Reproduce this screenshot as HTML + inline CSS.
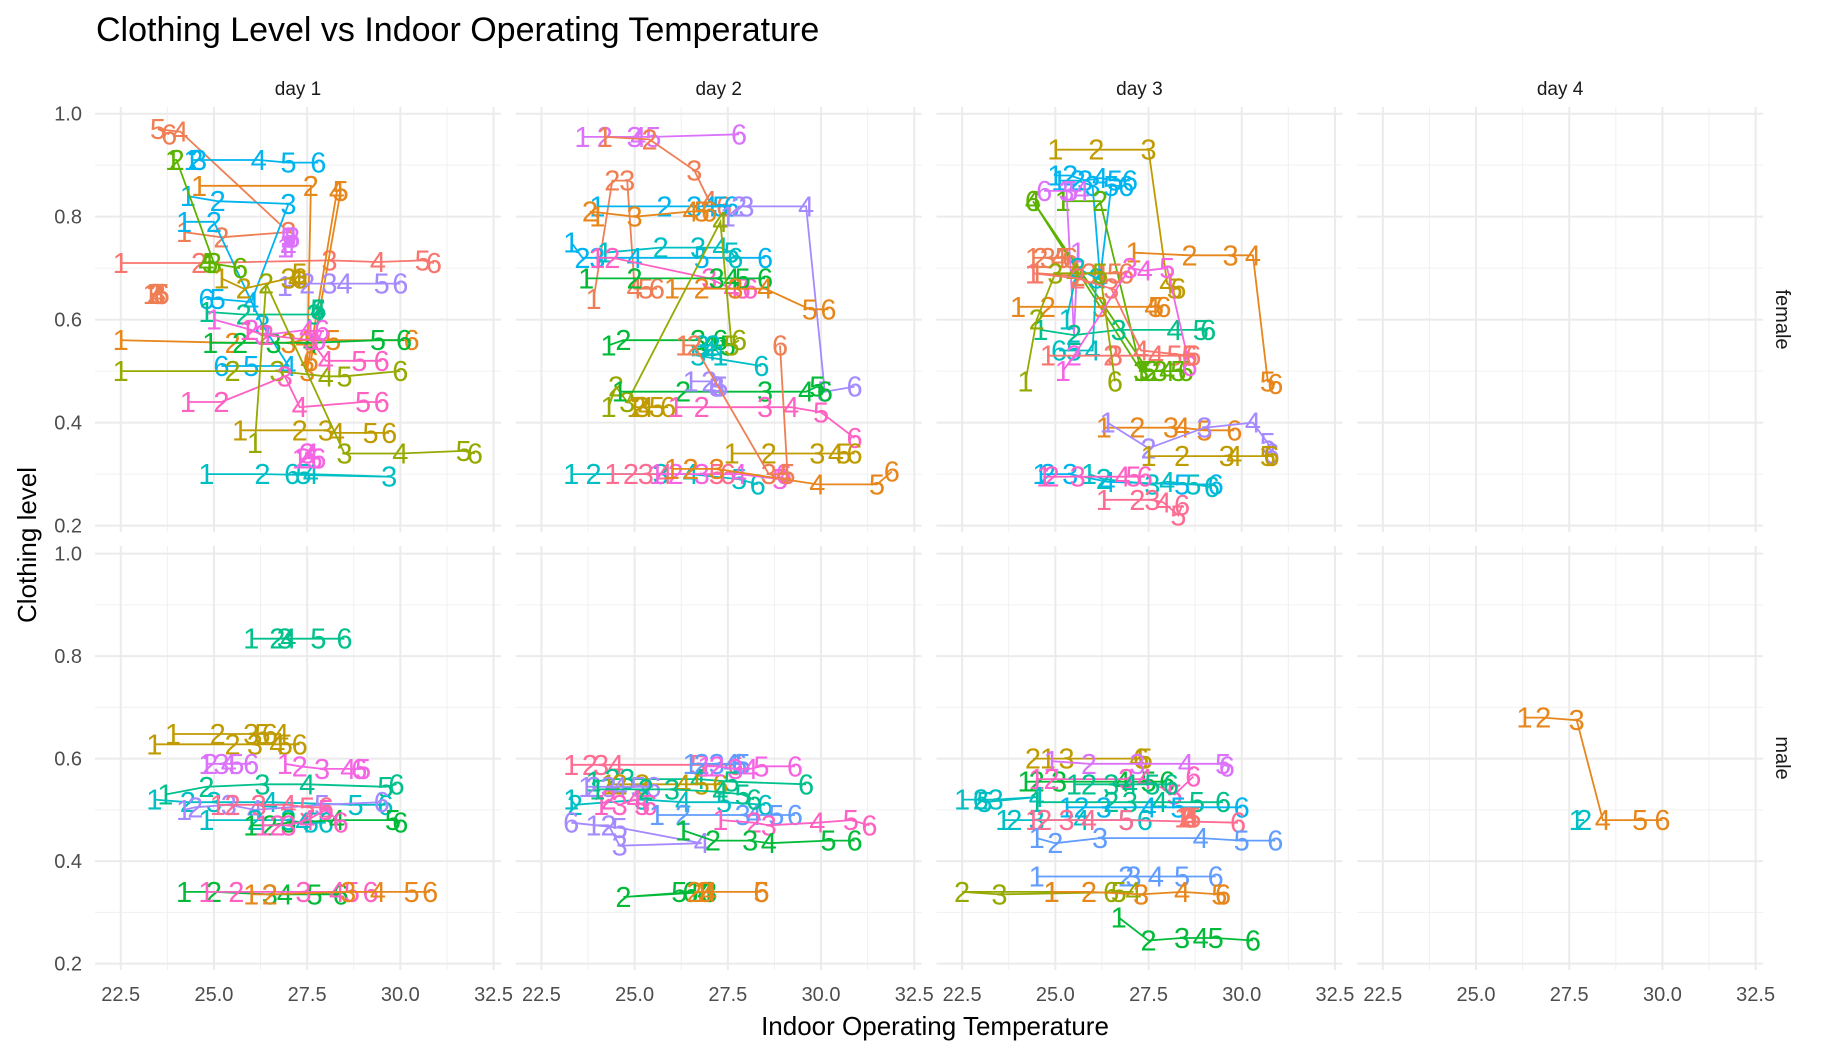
<!DOCTYPE html>
<html><head><meta charset="utf-8"><title>Clothing Level vs Indoor Operating Temperature</title>
<style>
html,body{margin:0;padding:0;background:#fff;}
svg{display:block;font-family:"Liberation Sans",sans-serif;}
</style></head>
<body>
<svg id="chart" width="1824" height="1056" viewBox="0 0 1824 1056" xmlns="http://www.w3.org/2000/svg">
<text x="96" y="41" font-size="34" fill="#000">Clothing Level vs Indoor Operating Temperature</text>
<text x="935" y="1035" font-size="26" text-anchor="middle" fill="#000">Indoor Operating Temperature</text>
<text x="0" y="0" font-size="26" text-anchor="middle" fill="#000" transform="translate(36,545) rotate(-90)">Clothing level</text>
<g id="grid"></g>
<g id="marks"></g>
</svg>
<script>
const palette = ["#F8766D","#E7861B","#C09B00","#95A900","#5BB300","#00BA38","#00C08B","#00BFC4","#00B4F0","#619CFF","#A58AFF","#DB72FB","#F564E3","#FF61C3","#FF6C91","#F07E55"];
const days = ["day 1","day 2","day 3","day 4"];
const sexes = ["female","male"];
const xTicks = [22.5,25.0,27.5,30.0,32.5];
const xTickLabels = ["22.5","25.0","27.5","30.0","32.5"];
const yTicks = [0.2,0.4,0.6,0.8,1.0];
const yTickLabels = ["0.2","0.4","0.6","0.8","1.0"];
const seriesDay = [
1,1,1,1,1,1,1,1,1,1,1,1,1,1,1,1,1,1,1,1,1,1,
2,2,2,2,2,2,2,2,2,2,2,2,2,2,2,2,2,2,2,2,2,2,2,2,
3,3,3,3,3,3,3,3,3,3,3,3,3,3,3,3,3,3,3,3,3,3,3,
1,1,1,1,1,1,1,1,1,1,1,1,1,1,1,
2,2,2,2,2,2,2,2,2,2,2,2,2,2,2,
3,3,3,3,3,3,3,3,3,3,3,3,3,3,3,3,
4,4];
const seriesSex = [
0,0,0,0,0,0,0,0,0,0,0,0,0,0,0,0,0,0,0,0,0,0,
0,0,0,0,0,0,0,0,0,0,0,0,0,0,0,0,0,0,0,0,0,0,0,0,
0,0,0,0,0,0,0,0,0,0,0,0,0,0,0,0,0,0,0,0,0,0,0,
1,1,1,1,1,1,1,1,1,1,1,1,1,1,1,
1,1,1,1,1,1,1,1,1,1,1,1,1,1,1,
1,1,1,1,1,1,1,1,1,1,1,1,1,1,1,1,
1,1];
const seriesColor = [
0,15,15,8,1,8,8,7,4,3,1,5,6,10,11,13,12,13,2,3,2,12,
11,15,15,8,1,10,8,7,13,5,1,5,3,7,5,2,13,10,2,7,14,12,1,15,
2,8,8,4,11,15,15,1,1,6,7,0,3,4,12,1,10,2,8,7,13,14,0,
6,2,2,11,6,7,10,14,7,5,13,5,13,1,12,
14,9,6,2,10,7,13,9,13,10,5,5,1,12,6,
2,11,5,13,7,6,8,7,14,0,9,9,3,1,5,6,
1,7];
const seriesX = [
[22.5,24.6,28.1,29.4,30.6,30.9],
[24.2,25.2,27.0,24.1,23.5,23.8],
[23.3,23.4,23.5,23.5,23.6,23.6],
[24.4,24.5,24.6,26.2,27.0,27.8],
[24.6,27.6,27.5,28.3,28.4,27.6],
[24.3,25.1,27.0,26.0,25.1,24.8],
[24.2,25.0,26.3,27.0,26.0,25.2],
[24.8,26.3,29.7,27.6,27.4,27.1],
[23.9,24.0,25.0,24.8,24.9,25.7],
[22.5,25.5,26.7,28.0,28.5,30.0],
[22.5,25.5,27.0,27.4,28.2,30.3],
[24.9,25.7,26.6,27.6,29.4,30.1],
[24.8,25.8,27.7,27.8,27.8,27.8],
[26.9,27.5,28.1,28.5,29.5,30.0],
[26.9,27.0,27.1,27.0,27.0,27.1],
[24.3,25.2,26.9,27.3,29.0,29.5],
[25.0,26.0,26.3,27.5,27.8,27.9],
[25.9,26.4,27.6,28.0,28.9,29.5],
[25.7,27.3,28.0,28.3,29.2,29.7],
[26.1,26.4,28.5,30.0,31.7,32.0],
[25.2,25.8,27.0,27.2,27.3,27.3],
[27.3,27.4,27.5,27.6,27.7,27.8],
[23.6,24.2,25.0,25.1,25.5,27.8],
[24.2,25.4,26.6,27.0,27.3,27.4],
[23.9,24.4,24.8,25.0,25.3,25.6],
[24.0,25.8,26.6,27.0,27.3,27.6],
[24.0,23.8,25.0,26.5,26.8,27.0],
[27.5,27.8,28.0,29.6,30.1,30.9],
[23.3,23.6,24.0,25.0,26.8,28.5],
[24.2,25.7,26.7,27.3,27.6,27.7],
[24.0,24.4,27.0,27.6,27.9,28.1],
[23.7,25.0,27.2,27.6,27.9,28.5],
[26.0,26.8,27.7,28.5,29.7,30.2],
[24.3,24.7,26.7,27.0,27.5,27.3],
[24.3,24.5,24.8,27.3,27.6,27.8],
[27.3,27.1,26.8,27.0,26.7,28.4],
[24.6,26.3,28.5,29.6,29.9,30.1],
[25.0,25.1,25.2,25.3,25.6,25.9],
[26.1,26.8,28.5,29.2,30.0,30.9],
[26.5,27.0,27.2,27.2,27.3,27.2],
[27.6,28.6,29.9,30.4,30.6,30.9],
[23.3,23.9,25.7,26.5,27.8,28.3],
[24.4,24.9,25.3,25.8,27.2,27.5],
[25.6,26.1,26.8,27.8,28.9,29.0],
[26.0,26.5,27.2,29.9,31.5,31.9],
[26.3,26.6,28.6,29.0,29.1,28.9],
[25.0,26.1,27.5,28.0,28.2,28.3],
[25.0,25.4,25.8,26.2,26.6,27.0],
[25.1,25.6,26.0,26.2,26.5,26.9],
[25.2,26.2,27.3,24.4,27.5,24.4],
[25.6,25.5,25.3,25.7,25.4,24.7],
[24.4,24.6,24.8,25.1,25.2,25.4],
[24.5,25.6,25.9,26.2,26.6,26.9],
[24.0,24.8,26.2,27.6,27.7,27.9],
[27.1,28.6,29.7,30.3,30.7,30.9],
[24.6,25.5,26.7,28.2,28.9,29.1],
[25.3,25.6,26.1,26.0,25.5,25.1],
[24.8,26.5,26.6,27.7,28.2,28.6],
[24.2,24.5,25.0,25.5,26.2,26.6],
[27.3,27.6,27.8,28.0,28.3,28.5],
[25.2,25.5,27.0,27.4,28.0,28.6],
[26.3,27.2,28.1,28.4,29.0,29.8],
[26.4,27.5,29.0,30.3,30.7,30.8],
[27.5,28.4,29.6,29.8,30.7,30.8],
[24.6,24.8,25.4,26.4,28.4,29.3],
[25.9,26.3,27.6,28.0,28.7,29.2],
[24.7,24.9,25.6,26.8,27.1,27.4],
[26.3,27.2,27.6,27.9,28.3,28.4],
[24.4,25.6,26.5,27.3,28.6,28.7],
[26.0,26.7,26.9,27.0,27.8,28.5],
[23.9,25.1,26.0,26.8,26.3,26.5],
[23.4,25.5,26.1,26.7,26.9,27.3],
[24.8,24.9,25.2,25.4,25.6,26.0],
[23.7,24.8,26.3,27.5,29.6,29.9],
[23.4,24.3,25.0,26.5,28.8,29.6],
[24.2,24.5,25.4,26.1,27.9,29.5],
[25.1,25.5,26.2,27.0,27.5,28.0],
[24.8,26.1,27.0,27.4,27.6,28.0],
[26.0,26.5,27.0,28.3,29.8,30.0],
[26.3,26.7,27.0,27.5,28.0,28.4],
[24.2,25.0,26.5,26.9,27.7,28.4],
[24.8,25.6,27.4,28.3,28.7,29.2],
[26.0,26.5,28.6,29.4,30.3,30.8],
[26.9,27.3,27.9,28.6,29.0,28.9],
[23.3,23.8,24.1,24.5,26.7,27.7],
[26.5,26.8,27.2,27.6,27.9,27.8],
[23.9,24.4,24.8,26.7,27.6,29.6],
[24.3,24.6,25.2,26.3,26.8,27.3],
[23.7,23.9,24.3,24.6,25.1,25.5],
[23.3,23.4,25.2,26.3,27.4,28.5],
[24.1,24.3,24.6,25.0,25.2,25.4],
[25.6,26.3,27.9,28.2,28.8,29.3],
[27.3,28.2,28.6,29.9,30.8,31.3],
[23.9,24.3,24.6,26.8,24.6,23.3],
[26.3,27.1,28.1,28.6,30.2,30.9],
[26.6,24.7,27.0,26.9,26.2,26.5],
[26.8,26.6,26.9,27.0,28.4,28.4],
[26.9,27.2,27.7,28.1,28.4,29.3],
[24.0,25.3,26.0,27.3,27.9,28.2],
[24.8,24.4,25.3,27.2,27.4,27.3],
[24.9,25.9,27.2,28.5,29.5,29.6],
[24.2,24.5,25.1,26.8,27.5,28.0],
[24.5,24.9,26.9,27.4,28.2,28.7],
[22.5,23.0,23.4,24.5,23.1,23.0],
[24.5,26.5,27.0,27.8,28.8,29.5],
[25.3,25.7,26.3,27.5,28.3,30.0],
[23.6,23.9,24.5,25.7,26.9,27.4],
[24.4,24.7,25.3,25.9,26.9,29.9],
[28.4,28.5,28.6,28.6,28.7,28.6],
[24.5,25.0,26.2,28.9,30.0,30.9],
[24.5,26.9,27.1,27.7,28.4,29.3],
[24.9,22.5,23.5,27.1,26.7,26.5],
[24.9,25.9,27.3,28.4,29.4,29.5],
[26.7,27.5,28.4,28.9,29.3,30.3],
[25.5,25.9,26.5,27.0,27.6,28.1],
[26.3,26.8,27.7,28.4,29.4,30.0],
[27.7,27.9]
];
const seriesY = [
[0.71,0.71,0.715,0.712,0.715,0.71],
[0.77,0.76,0.77,0.965,0.97,0.96],
[0.65,0.65,0.65,0.65,0.65,0.65],
[0.91,0.91,0.91,0.91,0.905,0.905],
[0.86,0.86,0.50,0.85,0.85,0.52],
[0.84,0.83,0.825,0.634,0.64,0.64],
[0.79,0.79,0.59,0.51,0.51,0.51],
[0.30,0.30,0.295,0.30,0.30,0.30],
[0.91,0.91,0.71,0.71,0.71,0.70],
[0.50,0.50,0.50,0.49,0.49,0.50],
[0.56,0.555,0.555,0.56,0.56,0.56],
[0.555,0.555,0.555,0.555,0.56,0.56],
[0.615,0.61,0.61,0.62,0.62,0.62],
[0.665,0.67,0.67,0.67,0.67,0.67],
[0.74,0.76,0.76,0.74,0.76,0.76],
[0.44,0.44,0.49,0.43,0.44,0.44],
[0.60,0.58,0.57,0.58,0.56,0.58],
[0.58,0.57,0.56,0.52,0.52,0.52],
[0.385,0.385,0.385,0.38,0.38,0.38],
[0.36,0.67,0.34,0.34,0.345,0.34],
[0.68,0.66,0.68,0.68,0.69,0.68],
[0.33,0.33,0.34,0.34,0.33,0.33],
[0.955,0.955,0.955,0.955,0.955,0.96],
[0.955,0.95,0.89,0.83,0.82,0.82],
[0.64,0.87,0.87,0.66,0.66,0.66],
[0.82,0.82,0.82,0.82,0.82,0.82],
[0.80,0.81,0.80,0.81,0.81,0.81],
[0.80,0.82,0.82,0.82,0.46,0.47],
[0.75,0.72,0.72,0.72,0.72,0.72],
[0.73,0.74,0.74,0.74,0.73,0.72],
[0.72,0.72,0.68,0.66,0.66,0.66],
[0.68,0.68,0.68,0.68,0.68,0.68],
[0.66,0.66,0.66,0.66,0.62,0.62],
[0.55,0.56,0.56,0.55,0.55,0.56],
[0.43,0.47,0.44,0.79,0.55,0.56],
[0.53,0.55,0.55,0.54,0.53,0.51],
[0.46,0.46,0.46,0.46,0.47,0.46],
[0.43,0.43,0.43,0.43,0.43,0.43],
[0.43,0.43,0.43,0.43,0.42,0.37],
[0.48,0.48,0.47,0.47,0.47,0.47],
[0.34,0.34,0.34,0.34,0.34,0.34],
[0.30,0.30,0.30,0.30,0.29,0.28],
[0.30,0.30,0.30,0.30,0.30,0.30],
[0.30,0.30,0.30,0.30,0.29,0.30],
[0.31,0.31,0.31,0.28,0.28,0.305],
[0.55,0.55,0.30,0.30,0.30,0.55],
[0.93,0.93,0.93,0.67,0.66,0.66],
[0.88,0.88,0.87,0.875,0.87,0.87],
[0.87,0.87,0.86,0.68,0.86,0.86],
[0.83,0.83,0.50,0.83,0.50,0.83],
[0.73,0.57,0.85,0.85,0.85,0.85],
[0.72,0.72,0.72,0.72,0.72,0.72],
[0.69,0.685,0.69,0.69,0.69,0.69],
[0.625,0.625,0.625,0.625,0.625,0.625],
[0.73,0.725,0.725,0.725,0.48,0.475],
[0.58,0.57,0.58,0.58,0.58,0.58],
[0.60,0.70,0.68,0.54,0.54,0.54],
[0.53,0.53,0.53,0.53,0.53,0.53],
[0.48,0.60,0.69,0.69,0.69,0.48],
[0.50,0.50,0.50,0.50,0.50,0.50],
[0.50,0.53,0.70,0.695,0.70,0.51],
[0.39,0.39,0.39,0.39,0.385,0.385],
[0.40,0.35,0.39,0.40,0.36,0.34],
[0.335,0.335,0.335,0.335,0.335,0.335],
[0.30,0.30,0.30,0.285,0.28,0.28],
[0.30,0.29,0.28,0.285,0.28,0.275],
[0.295,0.295,0.295,0.295,0.295,0.295],
[0.25,0.25,0.25,0.245,0.22,0.24],
[0.69,0.68,0.66,0.54,0.53,0.53],
[0.834,0.834,0.834,0.834,0.834,0.834],
[0.648,0.648,0.648,0.648,0.648,0.648],
[0.628,0.628,0.628,0.628,0.628,0.628],
[0.59,0.59,0.59,0.59,0.59,0.59],
[0.53,0.545,0.55,0.55,0.545,0.55],
[0.52,0.515,0.515,0.515,0.51,0.51],
[0.50,0.505,0.51,0.50,0.51,0.515],
[0.51,0.51,0.51,0.51,0.505,0.505],
[0.48,0.48,0.48,0.475,0.475,0.475],
[0.47,0.47,0.475,0.48,0.48,0.475],
[0.47,0.47,0.47,0.48,0.50,0.475],
[0.34,0.34,0.335,0.335,0.335,0.335],
[0.34,0.34,0.34,0.34,0.34,0.34],
[0.335,0.335,0.34,0.34,0.34,0.34],
[0.59,0.585,0.58,0.58,0.58,0.58],
[0.588,0.588,0.588,0.588,0.588,0.588],
[0.59,0.59,0.59,0.59,0.59,0.59],
[0.555,0.56,0.56,0.56,0.555,0.55],
[0.55,0.55,0.55,0.55,0.55,0.55],
[0.545,0.545,0.545,0.545,0.545,0.545],
[0.52,0.51,0.52,0.515,0.515,0.51],
[0.51,0.52,0.51,0.52,0.51,0.51],
[0.49,0.49,0.49,0.49,0.49,0.49],
[0.48,0.475,0.47,0.475,0.48,0.47],
[0.47,0.47,0.43,0.435,0.465,0.475],
[0.46,0.44,0.44,0.435,0.44,0.44],
[0.34,0.33,0.34,0.34,0.34,0.34],
[0.34,0.34,0.34,0.34,0.34,0.34],
[0.585,0.585,0.58,0.58,0.585,0.585],
[0.54,0.54,0.54,0.535,0.53,0.52],
[0.60,0.60,0.60,0.60,0.60,0.60],
[0.595,0.59,0.59,0.59,0.59,0.585],
[0.555,0.555,0.555,0.555,0.555,0.555],
[0.56,0.56,0.56,0.56,0.53,0.565],
[0.52,0.52,0.52,0.525,0.515,0.52],
[0.515,0.515,0.515,0.515,0.515,0.515],
[0.505,0.505,0.505,0.505,0.505,0.505],
[0.48,0.48,0.48,0.48,0.48,0.48],
[0.48,0.48,0.48,0.48,0.48,0.475],
[0.485,0.485,0.485,0.485,0.485,0.485],
[0.445,0.435,0.445,0.445,0.44,0.44],
[0.37,0.37,0.37,0.37,0.37,0.37],
[0.34,0.34,0.335,0.34,0.34,0.34],
[0.34,0.34,0.335,0.34,0.335,0.335],
[0.29,0.245,0.25,0.25,0.25,0.245],
[0.55,0.55,0.55,0.55,0.55,0.55],
[0.68,0.68,0.675,0.48,0.48,0.48],
[0.48,0.48]
];

const NS = "http://www.w3.org/2000/svg";
const panelLeft0 = 95, panelW = 406, panelStep = 420.7;
const xMin = 21.81, xMax = 32.7;
const panelTop = [107, 546], panelH = [425, 424];
const yMin = [0.1875, 0.1875], yMax = [1.013, 1.015];

function xScale(v, day){ return panelLeft0 + (day-1)*panelStep + (v - xMin)/(xMax - xMin)*panelW; }
function yScale(v, row){ return panelTop[row] + panelH[row] - (v - yMin[row])/(yMax[row]-yMin[row])*panelH[row]; }

function mk(tag, attrs, parent){
  const e = document.createElementNS(NS, tag);
  for (const k in attrs) e.setAttribute(k, attrs[k]);
  parent.appendChild(e);
  return e;
}

const grid = document.getElementById('grid');
for (let row=0; row<2; row++){
  for (let d=1; d<=4; d++){
    const g = mk('g', {}, grid);
    
    
    const x0 = xScale(xMin,d), x1 = xScale(xMax,d);
    const y0 = panelTop[row], y1 = panelTop[row]+panelH[row];
    for (let i=0;i<xTicks.length-1;i++){
      const m = (xTicks[i]+xTicks[i+1])/2;
      mk('line',{x1:xScale(m,d),x2:xScale(m,d),y1:y0,y2:y1,stroke:'#f0f0f0','stroke-width':1},g);
    }
    for (let i=0;i<yTicks.length-1;i++){
      const m = (yTicks[i]+yTicks[i+1])/2;
      mk('line',{x1:x0,x2:x1,y1:yScale(m,row),y2:yScale(m,row),stroke:'#f0f0f0','stroke-width':1},g);
    }
    xTicks.forEach(t=>{
      mk('line',{x1:xScale(t,d),x2:xScale(t,d),y1:y0,y2:y1,stroke:'#ebebeb','stroke-width':2},g);
    });
    yTicks.forEach(t=>{
      mk('line',{x1:x0,x2:x1,y1:yScale(t,row),y2:yScale(t,row),stroke:'#ebebeb','stroke-width':2},g);
    });
    if (row===0){
      const s = mk('text',{x:(x0+x1)/2,y:95,'font-size':19,'text-anchor':'middle',fill:'#1a1a1a'},g);
      s.textContent = days[d-1];
      
      
    }
    if (row===1){
      xTicks.forEach((t,i)=>{
        const tl = mk('text',{x:xScale(t,d),y:1001,'font-size':20,'text-anchor':'middle',fill:'#4d4d4d'},g);
        tl.textContent = xTickLabels[i];
        
        
      });
    }
    if (d===1){
      yTicks.forEach((t,i)=>{
        const tl = mk('text',{x:82,y:yScale(t,row)+7,'font-size':20,'text-anchor':'end',fill:'#4d4d4d'},g);
        tl.textContent = yTickLabels[i];
        
        
      });
    }
  }
  const cy = panelTop[row] + panelH[row]/2;
  const st = mk('text',{x:0,y:0,'font-size':20,'text-anchor':'middle',fill:'#1a1a1a',transform:'translate(1776,'+cy+') rotate(90)'},grid);
  st.textContent = sexes[row];
  
  
}

const marks = document.getElementById('marks');
for (let s=0; s<seriesX.length; s++){
  const d = seriesDay[s], row = seriesSex[s];
  const col = palette[seriesColor[s]];
  const g = mk('g', {}, marks);
  
  
  const pts = seriesX[s].map((x,i)=> xScale(x,d).toFixed(1)+','+yScale(seriesY[s][i],row).toFixed(1)).join(' ');
  const pl = mk('polyline',{points:pts,fill:'none',stroke:col,'stroke-width':1.8},g);
  
  
  seriesX[s].forEach((x,i)=>{
    const t = mk('text',{x:xScale(x,d),y:yScale(seriesY[s][i],row)+10,'font-size':29,'text-anchor':'middle',fill:col},g);
    t.textContent = String(i+1);
    
    
  });
}
</script>
</body></html>
